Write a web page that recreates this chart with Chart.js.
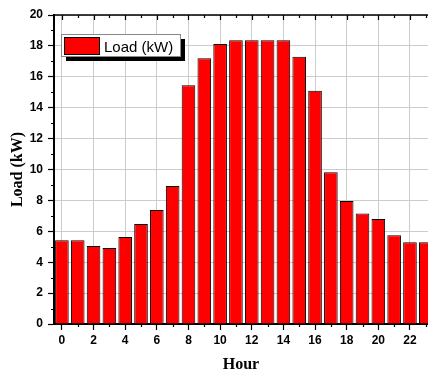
<!DOCTYPE html>
<html>
<head>
<meta charset="utf-8">
<script src="https://cdn.jsdelivr.net/npm/chart.js"></script>
<style>
    body { margin: 0; background: #fff; }
    #wrap { width: 428px; height: 374px; }
</style>
</head>
<body>
<div id="wrap"><canvas id="loadChart" width="428" height="374"></canvas></div>
<script>
// данные
var hours = [0, 1, 2, 3, 4, 5, 6, 7, 8, 9, 10, 11, 12, 13, 14, 15, 16, 17, 18, 19, 20, 21, 22, 23];
var loadKW = [5.42, 5.42, 5.05, 4.92, 5.63, 6.47, 7.38, 8.93, 15.45, 17.2, 18.12, 18.36,
              18.36, 18.36, 18.36, 17.3, 15.1, 9.82, 7.96, 7.16, 6.8, 5.74, 5.29, 5.29];
var hourTicks = [0, 2, 4, 6, 8, 10, 12, 14, 16, 18, 20, 22];
var minorHours = [1, 3, 5, 7, 9, 11, 13, 15, 17, 19, 21, 23];
var loadTicks = [0, 2, 4, 6, 8, 10, 12, 14, 16, 18, 20];
var minorLoad = [1, 3, 5, 7, 9, 11, 13, 15, 17, 19];

var points = hours.map(function(h, i) {
    return { x: h, y: loadKW[i] };
});

var tickFont = { family: 'Liberation Sans, Arial', size: 12, weight: 'bold' };
var titleFont = { family: 'Liberation Serif, Times New Roman', size: 16, weight: 'bold' };

// малые деления, верхняя ось и легенда с тенью
var framePlugin = {
    id: 'frame',
    afterDraw: function(chart) {
        var ctx = chart.ctx;
        var area = chart.chartArea;
        var xs = chart.scales.x;
        var ys = chart.scales.y;
        ctx.save();
        ctx.strokeStyle = '#000';
        ctx.lineWidth = 1.5;
        ctx.beginPath();
        ctx.moveTo(area.left, area.top);
        ctx.lineTo(area.right, area.top);
        ctx.stroke();

        ctx.lineWidth = 1.2;
        ctx.beginPath();
        hourTicks.forEach(function(h) {
            var px = Math.round(xs.getPixelForValue(h)) + 0.5;
            ctx.moveTo(px, area.top);
            ctx.lineTo(px, area.top + 5);
        });
        minorHours.forEach(function(h) {
            var px = Math.round(xs.getPixelForValue(h)) + 0.5;
            if (px > area.right) return;
            ctx.moveTo(px, area.top);
            ctx.lineTo(px, area.top + 3);
            ctx.moveTo(px, area.bottom);
            ctx.lineTo(px, area.bottom + 3);
        });
        minorLoad.forEach(function(v) {
            var py = Math.round(ys.getPixelForValue(v)) + 0.5;
            ctx.moveTo(area.left, py);
            ctx.lineTo(area.left - 3, py);
        });
        ctx.stroke();

        // легенда
        var lx = 61, ly = 34, lw = 119, lh = 22;
        ctx.fillStyle = '#000';
        ctx.fillRect(lx + 5, ly + 5, lw, lh);
        ctx.fillStyle = '#fff';
        ctx.fillRect(lx, ly, lw, lh);
        ctx.strokeStyle = '#888';
        ctx.lineWidth = 1;
        ctx.strokeRect(lx + 0.5, ly + 0.5, lw, lh);
        ctx.fillStyle = '#ff0000';
        ctx.fillRect(lx + 3, ly + 3, 35, 17);
        ctx.strokeStyle = '#000';
        ctx.strokeRect(lx + 3.5, ly + 3.5, 35, 17);
        ctx.fillStyle = '#000';
        ctx.font = '15px Liberation Sans, Arial';
        ctx.textBaseline = 'alphabetic';
        ctx.fillText(chart.data.datasets[0].label, lx + 43, ly + 18);
        ctx.restore();
    }
};

var ctx = document.getElementById('loadChart').getContext('2d');
new Chart(ctx, {
    type: 'bar',
    data: {
        datasets: [{
            label: 'Load (kW)',
            data: points,
            backgroundColor: '#ff0000',
            borderColor: '#000000',
            borderWidth: 1,
            barPercentage: 0.86,
            categoryPercentage: 1
        }]
    },
    options: {
        responsive: false,
        animation: false,
        layout: { padding: { top: 15, right: 0, left: 0, bottom: 0 } },
        plugins: {
            legend: { display: false },
            tooltip: { enabled: false }
        },
        scales: {
            x: {
                type: 'linear',
                offset: false,
                min: -0.5,
                max: 23.14,
                afterBuildTicks: function(scale) {
                    scale.ticks = hourTicks.map(function(v) { return { value: v }; });
                },
                afterFit: function(scale) { scale.height = 50; },
                grid: { offset: false, color: '#cccccc', lineWidth: 1, tickLength: 6, tickColor: '#000', tickWidth: 1.2 },
                border: { color: '#000', width: 2 },
                ticks: { color: '#000', font: tickFont, padding: 3, maxRotation: 0 },
                title: { display: true, text: 'Hour', color: '#000', font: titleFont, padding: { top: 4, bottom: 0 } }
            },
            y: {
                min: 0,
                max: 20,
                afterBuildTicks: function(scale) {
                    scale.ticks = loadTicks.map(function(v) { return { value: v }; });
                },
                afterFit: function(scale) { scale.width = 54; },
                grid: { color: '#cccccc', lineWidth: 1, tickLength: 6, tickColor: '#000', tickWidth: 1.2 },
                border: { color: '#000', width: 2 },
                ticks: { color: '#000', font: tickFont, padding: 5 },
                title: { display: true, text: 'Load (kW)', color: '#000', font: titleFont, padding: { top: 8, bottom: 4 } }
            }
        }
    },
    plugins: [framePlugin]
});
</script>
</body>
</html>
